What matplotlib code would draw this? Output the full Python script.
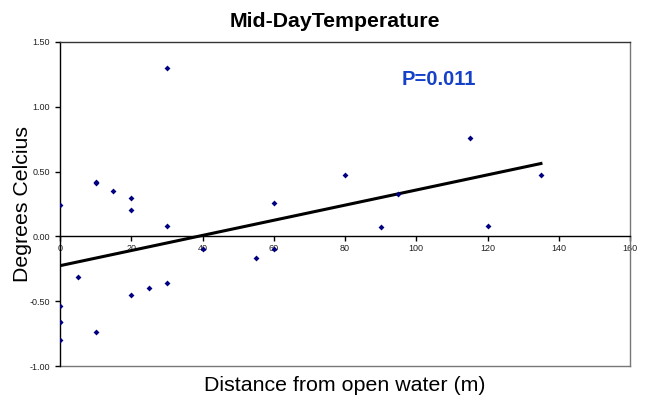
import numpy as np
import matplotlib.pyplot as plt
from matplotlib.ticker import FormatStrFormatter

plt.rcParams['font.family'] = ['Liberation Sans', 'DejaVu Sans']

# distance from open water (m) and mid-day temperature difference (deg C)
distance = [0, 0, 0, 0, 0, 5, 10, 10, 10, 15, 20, 20, 20, 25,
            30, 30, 30, 40, 55, 60, 60, 80, 90, 95, 115, 120, 135]
temp = [0.24, -0.54, -0.66, -0.66, -0.80, -0.31, 0.42, 0.41, -0.74, 0.35,
        0.30, 0.20, -0.45, -0.40, 1.30, 0.08, -0.36, -0.10, -0.17, 0.26,
        -0.10, 0.47, 0.07, 0.33, 0.76, 0.08, 0.47]

# linear trend line
trend_intercept = -0.226
trend_slope = 0.00584
p_label = 'P=0.011'

fig = plt.figure(figsize=(6.49, 3.96), dpi=100)
ax = fig.add_axes([60 / 649, 1 - 366 / 396, 570 / 649, 324 / 396])

ax.scatter(distance, temp, marker='D', s=9, color='#000080', linewidths=0,
           zorder=3)

tx = np.array([0, max(distance)])
ax.plot(tx, trend_intercept + trend_slope * tx, color='black', lw=2.2, zorder=2)

ax.set_xlim(0, 160)
ax.set_ylim(-1.0, 1.5)
ax.set_xticks(np.arange(0, 161, 20))
ax.set_yticks(np.arange(-1.0, 1.51, 0.5))
ax.yaxis.set_major_formatter(FormatStrFormatter('%.2f'))

# x axis drawn through zero
ax.spines['bottom'].set_position(('data', 0))
ax.spines['bottom'].set_color('black')
ax.spines['left'].set_color('black')
ax.spines['top'].set_color('#333333')
ax.spines['right'].set_color('#777777')
for s in ax.spines.values():
    s.set_linewidth(1.0)
# frame line along the bottom edge
ax.plot([0, 1], [0, 0], transform=ax.transAxes, color='#777777', lw=1.0,
        clip_on=False)

ax.tick_params(axis='both', labelsize=6.5, colors='black', length=3.5,
               width=1.0, labelcolor='#222222')
ax.tick_params(axis='x', direction='out', pad=2)

ax.set_title('Mid-DayTemperature', fontsize=15.3, fontweight='bold', pad=11,
             x=0.482)
ax.set_ylabel('Degrees Celcius', fontsize=15.3)
ax.yaxis.set_label_coords(-0.049, 0.5)
ax.set_xlabel('Distance from open water (m)', fontsize=15.4)
ax.xaxis.set_label_coords(0.5, -0.03)

ax.text(106.4, 1.21, p_label, color='#1540c8', fontsize=14.5,
        fontweight='bold', ha='center', va='center')

fig.savefig('out.png', dpi=100)
